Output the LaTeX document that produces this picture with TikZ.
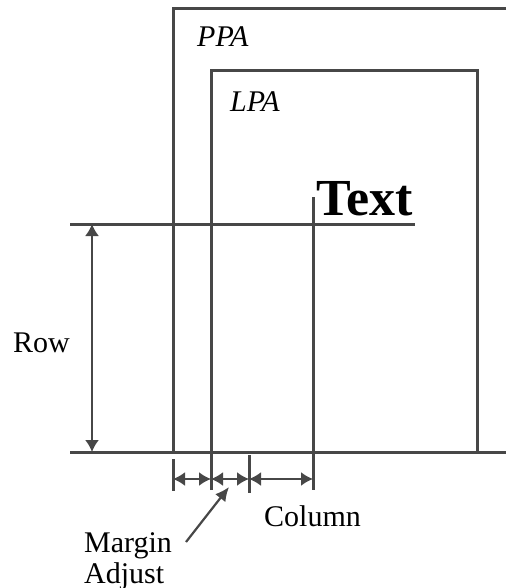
\documentclass[tikz,border=0pt]{standalone}
\usepackage{fontspec}
\setmainfont{Liberation Serif}
\usetikzlibrary{positioning, arrows.meta}

\begin{document}
\begin{tikzpicture}[x=1pt,y=-1pt]
        \tikzset{frame/.style = {line width=3pt, black!72}}
        \tikzset{dim/.style = {line width=2pt, black!72, {Latex[length=12pt,width=14pt]}-{Latex[length=12pt,width=14pt]}}}
        \tikzset{ptr/.style = {line width=2.2pt, black!72, -{Latex[length=14pt,width=13pt]}}}
        \tikzset{lbl/.style = {font=\fontsize{30}{31}\selectfont, inner sep=0pt}}

        \useasboundingbox (0,0) rectangle (506,588);

        % physical page area
        \coordinate (ppaTR) at (506,9);
        \coordinate (ppaTL) at (173,9);
        \coordinate (ppaBL) at (173,452);
        \coordinate (ppaBR) at (506,452);

        % logical page area
        \coordinate (lpaTL) at (211,71);
        \coordinate (lpaTR) at (477,71);
        \coordinate (lpaBR) at (477,452);
        \coordinate (lpaBot) at (211,490);

        % row and column lines
        \coordinate (rowL) at (70,224);
        \coordinate (rowR) at (415,224);
        \coordinate (baseL) at (70,452);
        \coordinate (colTop) at (313,197);
        \coordinate (colBot) at (313,490);

        \coordinate (rowA) at (92,224);
        \coordinate (rowB) at (92,452);

        % ticks below the base line
        \coordinate (t1top) at (173,459);
        \coordinate (t1bot) at (173,491);
        \coordinate (t3top) at (249,455);
        \coordinate (t3bot) at (249,493);

        \coordinate (d1) at (173,479);
        \coordinate (d2) at (211,479);
        \coordinate (d3) at (249,479);
        \coordinate (d4) at (313,479);

        \coordinate (maTail) at (186,542);
        \coordinate (maHead) at (229,487);

        \draw[frame] (ppaTR) -- (ppaTL) -- (ppaBL);
        \draw[frame] (baseL) -- (ppaBR);
        \draw[frame] (lpaBot) -- (lpaTL) -- (lpaTR) -- (lpaBR);
        \draw[frame] (rowL) -- (rowR);
        \draw[frame] (colTop) -- (colBot);
        \draw[frame] (t1top) -- (t1bot);
        \draw[frame] (t3top) -- (t3bot);

        \draw[dim] (rowA) -- (rowB);
        \draw[dim] (d1) -- (d2);
        \draw[dim] (d2) -- (d3);
        \draw[dim] (d3) -- (d4);
        \draw[ptr] (maTail) -- (maHead);

        \node[lbl, anchor=base west] (ppa) at (197,47) {\itshape PPA};
        \node[lbl, anchor=base west] (lpa) at (230,112) {\itshape LPA};
        \node[lbl, anchor=base west, font=\fontsize{52}{55}\selectfont\bfseries] (txt) at (316,215) {Text};
        \node[lbl, anchor=base west] (row) at (13,352) {Row};
        \node[lbl, anchor=base west] (column) at (264,526) {Column};
        \node[lbl, anchor=north west, align=left] (margin) at (84,532) {Margin\\Adjust};

        \end{tikzpicture}
\end{document}
